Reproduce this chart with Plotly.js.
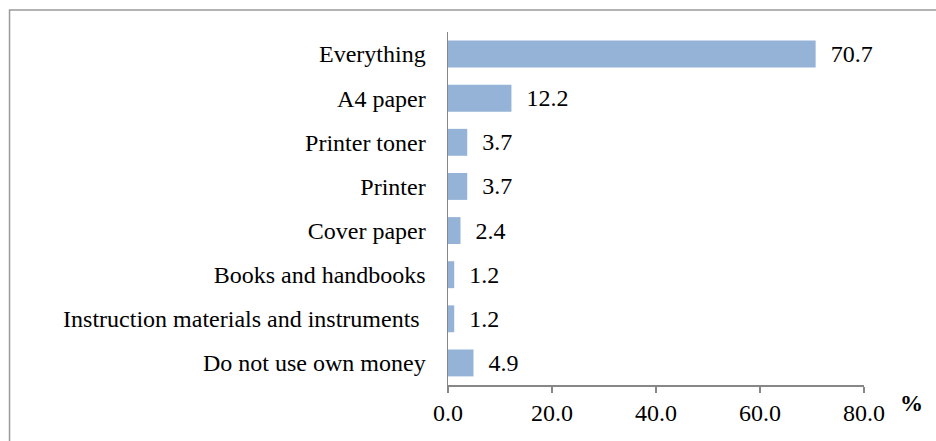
<!DOCTYPE html>
<html>
<head>
<meta charset="utf-8">
<script src="https://cdn.plot.ly/plotly-3.0.1.min.js"></script>
<style>html,body{margin:0;padding:0;background:#fff;}#chart{width:936px;height:441px;}</style>
</head>
<body>
<div id="chart"></div>
<script>
const categories = ["Everything", "A4 paper", "Printer toner", "Printer", "Cover paper", "Books and handbooks", "Instruction materials and instruments ", "Do not use own money"];
const values = [70.7, 12.2, 3.7, 3.7, 2.4, 1.2, 1.2, 4.9];
const tickVals = [0, 20, 40, 60, 80];
const tickText = ["0.0", "20.0", "40.0", "60.0", "80.0"];
const axisUnit = "%";

const font = {family: "Liberation Serif", size: 24, color: "#000"};

const trace = {
  type: "bar",
  orientation: "h",
  y: categories,
  x: values,
  marker: {color: "#95b3d7"},
  width: 0.61,
  text: values.map(v => "  " + v.toFixed(1)),
  textposition: "outside",
  textfont: font,
  cliponaxis: false,
  hoverinfo: "none"
};

const layout = {
  width: 936, height: 441,
  margin: {l: 448, r: 72, t: 32, b: 56},
  paper_bgcolor: "#fff", plot_bgcolor: "#fff",
  font: font,
  showlegend: false,
  xaxis: {
    range: [0, 80], tickvals: tickVals, ticktext: tickText,
    showgrid: false, zeroline: false,
    showline: true, linecolor: "#878787", linewidth: 1.5,
    ticks: "outside", ticklen: 6, tickcolor: "#878787", tickwidth: 1.5,
    ticklabelstandoff: 0, tickfont: font, fixedrange: true
  },
  yaxis: {
    autorange: "reversed", type: "category",
    showgrid: false, zeroline: false,
    showline: true, linecolor: "#878787", linewidth: 1.5,
    ticks: "", ticklabelstandoff: 16, tickfont: font, fixedrange: true
  },
  shapes: [{
    type: "rect", xref: "paper", yref: "paper",
    x0: -1.054, x1: 1.2, y0: -0.2, y1: 1.0623,
    line: {color: "#9a9a9a", width: 1.5}, layer: "below"
  }],
  annotations: [{
    xref: "paper", yref: "paper", x: 1.113, y: -0.051,
    xanchor: "center", yanchor: "middle",
    text: "<b>" + axisUnit + "</b>", showarrow: false,
    font: {family: "Liberation Serif", size: 23, color: "#000"}
  }]
};

Plotly.newPlot("chart", [trace], layout, {staticPlot: true, displayModeBar: false});
</script>
</body>
</html>
